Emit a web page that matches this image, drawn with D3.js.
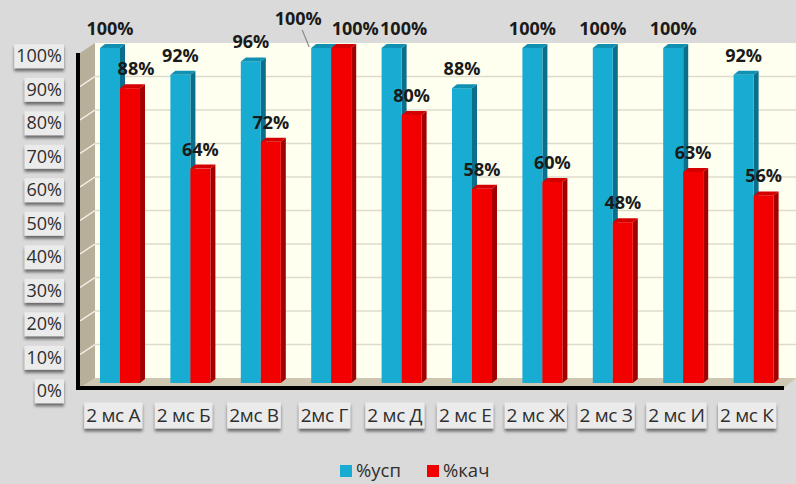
<!DOCTYPE html>
<html>
<head>
<meta charset="utf-8">
<script src="https://cdn.jsdelivr.net/npm/d3@7/dist/d3.min.js"></script>
<style>
  html, body { margin: 0; padding: 0; background: #dadada; }
  svg { display: block; }
</style>
</head>
<body>
<svg id="chart" width="796" height="484"></svg>
<script>
// Classes and their results
const categories = ["2 мс А", "2 мс Б", "2мс В", "2мс Г", "2 мс Д", "2 мс Е", "2 мс Ж", "2 мс З", "2 мс И", "2 мс К"];
const seriesNames = ["%усп", "%кач"];
const uspValues = [100, 92, 96, 100, 100, 88, 100, 100, 100, 92];
const kachValues = [88, 64, 72, 100, 80, 58, 60, 48, 63, 56];
const yTicks = [0, 10, 20, 30, 40, 50, 60, 70, 80, 90, 100];

const colors = {
  "%усп": { front: "#18acd2", side: "#0b6e8b", top: "#1090b3" },
  "%кач": { front: "#f20000", side: "#a30000", top: "#d40000" }
};

// hand-placed label shifts where neighbouring labels would collide
const labelShift = {
  "2 мс А|%кач": [6, 0],
  "2мс Г|%усп": [-23, -10],
  "2мс Г|%кач": [14, 0],
  "2 мс Д|%усп": [12, 0]
};

const svg = d3.select("#chart");
const W = 796;

const left = 80, right = 784;
const depthX = 15;                   // offset from front plane to back wall
const barDx = 5, barDy = 4;          // bar thickness in depth

const x = d3.scaleBand().domain(categories).range([left, right]);
const xs = d3.scaleBand().domain(seriesNames).range([20, 60]);
const y = d3.scaleLinear().domain([0, 100]).range([383, 48]);        // bars
const yFront = d3.scaleLinear().domain([0, 100]).range([388, 53]);   // front edge
const yBack = d3.scaleLinear().domain([0, 100]).range([378, 43]);    // back wall

const defs = svg.append("defs");
const sh = defs.append("filter").attr("id", "shadow")
  .attr("x", "-20%").attr("y", "-30%").attr("width", "140%").attr("height", "180%");
sh.append("feDropShadow").attr("dx", 0).attr("dy", 3).attr("stdDeviation", 1.8)
  .attr("flood-color", "#444").attr("flood-opacity", 0.75);

// back wall
svg.append("rect")
  .attr("x", left + depthX).attr("y", yBack(100))
  .attr("width", W - left - depthX).attr("height", yBack(0) - yBack(100))
  .attr("fill", "#fffff0");

svg.append("g").selectAll("line").data(yTicks.filter(d => d > 0 && d < 100)).join("line")
  .attr("x1", left + depthX).attr("x2", W)
  .attr("y1", d => yBack(d)).attr("y2", d => yBack(d))
  .attr("stroke", "#dddbcc").attr("stroke-width", 1.5);

// side wall
svg.append("polygon")
  .attr("points", [[left, yFront(0)], [left, yFront(100)], [left + depthX, yBack(100)], [left + depthX, yBack(0)]].join(" "))
  .attr("fill", "#b7af99");
svg.append("g").selectAll("line").data(yTicks.filter(d => d > 0 && d < 100)).join("line")
  .attr("x1", left).attr("x2", left + depthX)
  .attr("y1", d => yFront(d)).attr("y2", d => yBack(d))
  .attr("stroke", "#f4f2ea").attr("stroke-width", 1.5);

// floor
svg.append("polygon")
  .attr("points", [[left, yFront(0)], [right, yFront(0)], [W, yBack(0)], [left + depthX, yBack(0)]].join(" "))
  .attr("fill", "#cdc6b0");

// bars
const rows = categories.flatMap((c, i) => [
  { cat: c, s: "%усп", v: uspValues[i] },
  { cat: c, s: "%кач", v: kachValues[i] }
]);
const bw = xs.bandwidth();
const bars = svg.append("g").selectAll("g").data(rows).join("g");
bars.append("polygon")
  .attr("points", d => {
    const x0 = x(d.cat) + xs(d.s) + bw, t = y(d.v), b = y(0);
    return [[x0, t], [x0 + barDx, t - barDy], [x0 + barDx, b - barDy], [x0, b]].join(" ");
  })
  .attr("fill", d => colors[d.s].side);
bars.append("rect")
  .attr("x", d => x(d.cat) + xs(d.s)).attr("y", d => y(d.v))
  .attr("width", bw).attr("height", d => y(0) - y(d.v))
  .attr("fill", d => colors[d.s].front);
bars.append("polygon")
  .attr("points", d => {
    const x0 = x(d.cat) + xs(d.s), t = y(d.v);
    return [[x0, t], [x0 + bw, t], [x0 + bw + barDx, t - barDy], [x0 + barDx, t - barDy]].join(" ");
  })
  .attr("fill", d => colors[d.s].top);

// axis lines
svg.append("line").attr("x1", left - 2).attr("x2", left - 2)
  .attr("y1", yFront(100)).attr("y2", yFront(0) + 2)
  .attr("stroke", "#000").attr("stroke-width", 4);
svg.append("line").attr("x1", left - 4).attr("x2", right)
  .attr("y1", yFront(0)).attr("y2", yFront(0))
  .attr("stroke", "#000").attr("stroke-width", 4);

// value labels
const labelPos = d => {
  const k = labelShift[d.cat + "|" + d.s] || [0, 0];
  return [x(d.cat) + xs(d.s) + bw / 2 + k[0], y(d.v) - 13 + k[1]];
};
svg.append("g").selectAll("text").data(rows).join("text")
  .attr("x", d => labelPos(d)[0]).attr("y", d => labelPos(d)[1])
  .attr("text-anchor", "middle")
  .attr("font-family", "'Open Sans', sans-serif").attr("font-weight", 700)
  .attr("font-size", 18).attr("fill", "#1a1a1a")
  .text(d => d.v + "%");

// leader line for the moved label
rows.filter(d => d.cat === "2мс Г" && d.s === "%усп").forEach(d => {
  const p = labelPos(d);
  svg.append("line")
    .attr("x1", p[0] + 4).attr("y1", p[1] + 5)
    .attr("x2", x(d.cat) + xs(d.s) - 2).attr("y2", y(d.v) - 1)
    .attr("stroke", "#8a8a8a").attr("stroke-width", 1.2);
});

// y axis labels
const yAxis = svg.append("g")
  .attr("transform", `translate(${left - 18},3)`)
  .call(d3.axisLeft(yFront).tickValues(yTicks).tickFormat(d => d + "%").tickSize(0).tickPadding(0));
yAxis.select(".domain").remove();
yAxis.selectAll("text")
  .attr("font-family", "'Open Sans', sans-serif").attr("font-size", 18)
  .attr("fill", "#2e2e2e");

function boxLabels(sel) {
  sel.each(function () {
    const b = this.getBBox();
    d3.select(this.parentNode).insert("rect", "text")
      .attr("x", b.x - 2).attr("y", b.y + 1)
      .attr("width", b.width + 4).attr("height", b.height)
      .attr("fill", "#ebebeb").attr("filter", "url(#shadow)");
  });
}
boxLabels(yAxis.selectAll("text"));

// category labels
const xAxis = svg.append("g")
  .attr("transform", `translate(-2,${yFront(0) + 20})`)
  .call(d3.axisBottom(x).tickSize(0).tickPadding(0));
xAxis.select(".domain").remove();
xAxis.selectAll("text")
  .attr("font-family", "'Open Sans', sans-serif").attr("font-size", 19)
  .attr("letter-spacing", -0.3)
  .attr("fill", "#2e2e2e");
boxLabels(xAxis.selectAll("text"));

// legend
const legend = svg.append("g").attr("transform", "translate(340,465)");
const li = legend.selectAll("g").data(seriesNames).join("g")
  .attr("transform", (d, i) => `translate(${i * 87},0)`);
li.append("rect").attr("width", 12).attr("height", 12)
  .attr("fill", d => colors[d].front);
li.append("text").attr("x", 16).attr("y", 12)
  .attr("font-family", "'Open Sans', sans-serif").attr("font-size", 18.5)
  .attr("fill", "#2e2e2e").text(d => d);
</script>
</body>
</html>
